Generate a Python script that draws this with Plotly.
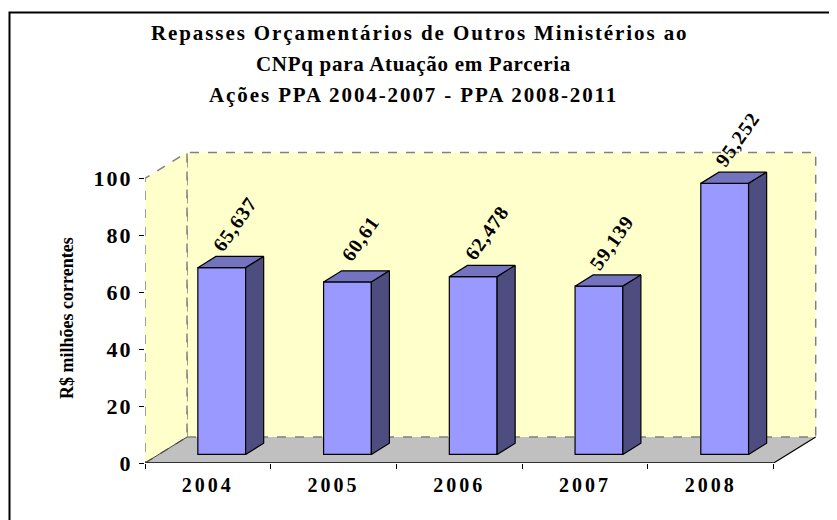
import plotly.graph_objects as go

years = ["2004", "2005", "2006", "2007", "2008"]
values = [65.637, 60.61, 62.478, 59.139, 95.252]
value_labels = ["65,637", "60,61", "62,478", "59,139", "95,252"]
y_ticks = [0, 20, 40, 60, 80, 100]

title_lines = [
    "Repasses Orçamentários de Outros Ministérios ao",
    "CNPq para Atuação em Parceria",
    "Ações PPA 2004-2007 - PPA 2008-2011",
]
y_title = "R$ milhões correntes"

FONT = "Liberation Serif, Times New Roman, serif"

# page / plot area geometry (pixels); the page body adds an 8px offset
W, H = 837, 520
OFF = 8
ML, MR, MT, MB = 137, 21, 142, 65
X0, X1 = -0.5, 4.9
Y0, Y1 = 0, 110
PW = W - ML - MR
PH = H - MT - MB
XPX = PW / (X1 - X0)
YPX = PH / (Y1 - Y0)

# 3d depth of the floor, in data units
DX = 42 / XPX
DY = 26 / YPX
F0, F1 = 0.33, 0.76  # bar front / back as a fraction of the depth
BAR_W = 0.38


def px_x(p):
    # screen x -> paper x
    return (p - OFF - ML) / PW


def px_y(p):
    # screen y -> paper y
    return (H - MB - (p - OFF)) / PH


def spaced(text, sp):
    return f"<span style='letter-spacing:{sp}px'>{text}</span>"


def path(points):
    return "M " + " L ".join(f"{x},{y}" for x, y in points) + " Z"


wall_line = dict(color="#808080", width=1.5, dash="dash")
x_left, x_right = -0.5, len(years) - 0.5

shapes = [
    # floor
    dict(type="path", xref="x", yref="y", layer="below",
         path=path([(x_left, 0), (x_right, 0), (x_right + DX, DY), (x_left + DX, DY)]),
         fillcolor="#C0C0C0", line=dict(width=0)),
    # back wall
    dict(type="path", xref="x", yref="y", layer="below",
         path=path([(x_left + DX, DY), (x_right + DX, DY), (x_right + DX, 100 + DY), (x_left + DX, 100 + DY)]),
         fillcolor="#FFFFCC", line=wall_line),
    # side wall
    dict(type="path", xref="x", yref="y", layer="below",
         path=path([(x_left, 0), (x_left + DX, DY), (x_left + DX, 100 + DY), (x_left, 100)]),
         fillcolor="#FFFFCC", line=wall_line),
    # floor edges
    dict(type="line", xref="x", yref="y", layer="below", x0=x_left, y0=0, x1=x_right, y1=0,
         line=dict(color="black", width=1.5)),
    dict(type="line", xref="x", yref="y", layer="below", x0=x_right, y0=0, x1=x_right + DX, y1=DY,
         line=dict(color="black", width=1.2)),
    dict(type="line", xref="x", yref="y", layer="below", x0=x_left, y0=0, x1=x_left + DX, y1=DY,
         line=dict(color="#404040", width=1)),
    # outer chart border
    dict(type="rect", xref="paper", yref="paper", x0=px_x(9.5), x1=px_x(870), y0=px_y(550), y1=px_y(12.5),
         line=dict(color="black", width=2)),
]

fig = go.Figure()

xs = list(range(len(years)))
front_x = [x + F0 * DX for x in xs]
base = F0 * DY
ddx = (F1 - F0) * DX
ddy = (F1 - F0) * DY

fig.add_trace(go.Bar(
    x=front_x, y=values, base=[base] * len(values), width=BAR_W,
    marker=dict(color="#9999FF", line=dict(color="black", width=1.2)),
    hoverinfo="skip",
))

for fx, v in zip(front_x, values):
    left, right = fx - BAR_W / 2, fx + BAR_W / 2
    top = base + v
    # top face
    fig.add_trace(go.Scatter(
        x=[left, right, right + ddx, left + ddx, left],
        y=[top, top, top + ddy, top + ddy, top],
        mode="lines", fill="toself", fillcolor="#7373BF",
        line=dict(color="black", width=1.2), hoverinfo="skip",
    ))
    # side face
    fig.add_trace(go.Scatter(
        x=[right, right + ddx, right + ddx, right, right],
        y=[base, base + ddy, top + ddy, top, base],
        mode="lines", fill="toself", fillcolor="#4D4D80",
        line=dict(color="black", width=1.2), hoverinfo="skip",
    ))

annotations = []
for fx, v, lab in zip(front_x, values, value_labels):
    annotations.append(dict(
        x=fx, y=base + v, xref="x", yref="y", text=spaced(lab, 1), showarrow=False,
        textangle=-55, xanchor="center", yanchor="middle", xshift=13, yshift=44,
        font=dict(family=FONT, size=20, color="black", weight="bold"),
    ))

for line, px, py, sp in zip(title_lines, [419, 413, 413], [33, 64, 95], [1.9, 0.7, 1.9]):
    annotations.append(dict(
        x=px_x(px), y=px_y(py), xref="paper", yref="paper", text=spaced(line, sp), showarrow=False,
        xanchor="center", yanchor="middle",
        font=dict(family=FONT, size=21, color="black", weight="bold"),
    ))

annotations.append(dict(
    x=px_x(67), y=px_y(318), xref="paper", yref="paper", text=y_title, showarrow=False,
    textangle=-90, xanchor="center", yanchor="middle",
    font=dict(family=FONT, size=18, color="black", weight="bold"),
))

fig.update_layout(
    width=W, height=H,
    margin=dict(l=ML, r=MR, t=MT, b=MB),
    paper_bgcolor="white", plot_bgcolor="white",
    showlegend=False,
    shapes=shapes,
    annotations=annotations,
)
fig.update_xaxes(
    type="linear", range=[X0, X1], showgrid=False, zeroline=False, showline=False,
    tickmode="array", tickvals=xs, ticktext=[spaced(y, 3) for y in years], ticks="",
    ticklabelstandoff=8,
    tickfont=dict(family=FONT, size=20, color="black", weight="bold"),
    minor=dict(tickmode="array", tickvals=[x - 0.5 for x in xs] + [x_right], ticks="outside",
               ticklen=5, tickcolor="black", tickwidth=1),
)
fig.update_yaxes(
    range=[Y0, Y1], showgrid=False, zeroline=False, showline=False,
    tickmode="array", tickvals=y_ticks, ticktext=[spaced(t, 2) for t in y_ticks],
    ticks="outside", ticklen=5, tickcolor="black", tickwidth=1, ticklabelstandoff=2,
    tickfont=dict(family=FONT, size=22, color="black", weight="bold"),
)

fig.write_html("out.html")
